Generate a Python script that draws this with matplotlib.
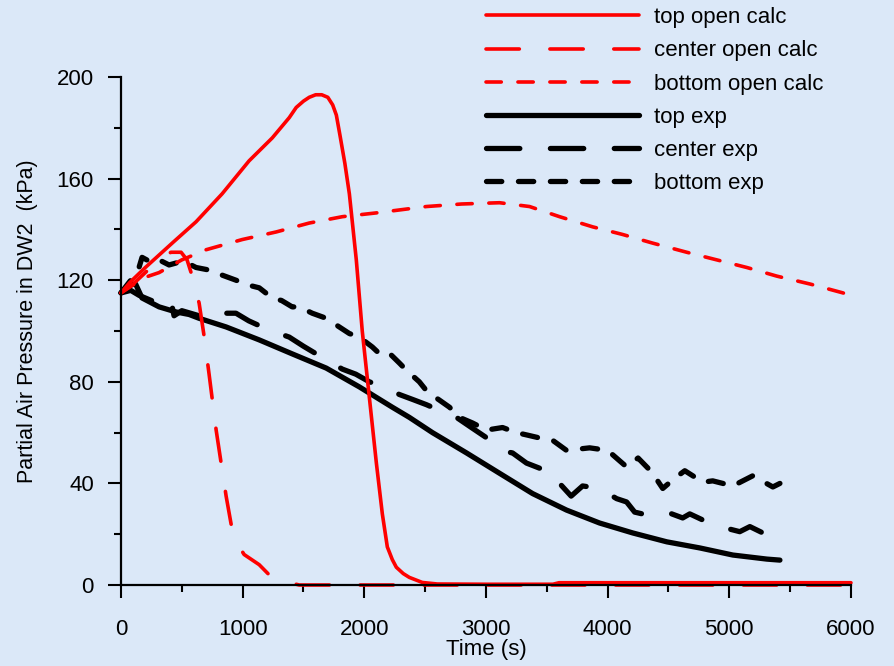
import matplotlib
matplotlib.use("Agg")
import matplotlib.pyplot as plt
from matplotlib.ticker import MultipleLocator

plt.rcParams['font.family'] = ['Liberation Sans', 'DejaVu Sans']
plt.rcParams['lines.scale_dashes'] = False

# ---------------- data ----------------
top_calc_t = [0, 70, 200, 430, 617, 831, 1053, 1243, 1383, 1440, 1500, 1547, 1600, 1650, 1700,
              1740, 1770, 1800, 1840, 1877, 1934, 1983, 2041, 2099, 2148, 2189, 2230, 2263,
              2320, 2370, 2477, 2600, 3000, 3550, 3600, 4000, 5000, 6000]
top_calc_p = [115, 119, 125, 135, 143, 154, 167, 176, 184, 188, 190.5, 192, 193, 193, 192,
              189, 185, 177, 166, 154, 128, 100, 74, 48, 28, 15, 10, 7,
              4.5, 3, 1, 0.4, 0.3, 0.3, 0.9, 0.9, 0.9, 0.9]

center_calc_t = [0, 100, 200, 300, 410, 494, 543, 576, 642, 683, 724, 782, 823, 864, 905,
                 960, 1012, 1136, 1218, 1300, 1465, 6000]
center_calc_p = [115, 118.5, 123, 127.5, 131, 131, 128, 123, 111, 98, 83, 61, 48, 35, 24,
                 16, 12, 8, 4, 2, 0, 0]

bottom_calc_t = [0, 190, 313, 500, 700, 996, 1276, 1547, 1819, 2099, 2510, 2800, 3111, 3358,
                 3605, 3877, 4123, 4370, 4650, 4897, 5144, 5391, 5663, 5934, 6000]
bottom_calc_p = [115, 121, 123, 128, 132, 136, 139, 142.5, 145, 146.5, 149, 150, 150.5, 149,
                 145, 141, 138, 134.6, 131, 128, 125, 121.6, 118.5, 115, 114]

top_exp_t = [0, 60, 120, 173, 313, 453, 560, 642, 864, 1136, 1407, 1687, 1959, 2230, 2370,
             2560, 2840, 3111, 3383, 3662, 3934, 4206, 4486, 4757, 5029, 5309, 5416]
top_exp_p = [115, 118, 118.5, 113, 109.5, 107.5, 106.5, 105, 101.6, 96.5, 91, 85.4, 78, 70, 66,
             60, 52, 44, 36, 29.5, 24.4, 20.5, 17, 14.6, 11.8, 10.2, 9.8]

center_exp_t = [0, 80, 150, 250, 380, 410, 436, 500, 642, 750, 850, 945, 1050, 1160, 1270,
                1383, 1500, 1605, 1712, 1819, 1930, 2041, 2160, 2288, 2400, 2510, 2630, 2757,
                2880, 3004, 3111, 3218, 3333, 3440, 3547, 3605, 3700, 3794, 3934, 4074, 4156,
                4222, 4321, 4428, 4510, 4617, 4675, 4782, 4922, 5086, 5169, 5276, 5391, 5416]
center_exp_p = [115, 116, 114, 112, 110, 112, 106, 108, 106, 108, 107, 107, 104, 101.6, 99.5,
                97.6, 94, 91, 88, 85, 83, 80, 78, 75, 73, 71, 68.5, 66,
                62, 58, 53, 52, 48, 46, 45, 40, 35, 39, 38, 34, 32.7,
                28.7, 27.6, 27.6, 28.3, 26.4, 28, 25.6, 23, 21, 23, 20.5, 19, 19]

bottom_exp_t = [0, 80, 148, 173, 250, 313, 395, 470, 535, 617, 724, 831, 945, 1053, 1136,
                1243, 1320, 1407, 1465, 1572, 1687, 1794, 1877, 1959, 2066, 2148, 2222, 2288,
                2345, 2452, 2519, 2617, 2700, 2782, 2889, 3004, 3136, 3250, 3342, 3440, 3547,
                3662, 3852, 4000, 4156, 4250, 4362, 4453, 4550, 4634, 4782, 4864, 5029, 5193,
                5358, 5416]
bottom_exp_p = [115, 120, 125, 129, 127, 128, 126, 127, 127, 125, 124, 122, 120, 118, 117,
                113, 112, 109.5, 109.5, 107, 105, 101.6, 99, 97.6, 93.7, 90, 90.5, 87.4,
                84.6, 80, 76, 72.8, 70, 66, 63.8, 61, 62, 60, 59, 57.9, 57,
                53, 54, 53, 46.5, 50, 44.5, 38, 42, 45, 40.5, 41, 39, 43,
                38.6, 40]

x_ticks = [0, 1000, 2000, 3000, 4000, 5000, 6000]
y_ticks = [0, 40, 80, 120, 160, 200]

# ---------------- figure ----------------
bg = '#dbe8f8'
fig = plt.figure(figsize=(8.95, 6.66), dpi=100, facecolor=bg)
ax = fig.add_axes([0.1352, 0.1216, 0.8156, 0.7628])
ax.set_facecolor('none')

red_lw = 2.6
blk_lw = 3.8
long_dash = (0, (24, 22))
short_dash = (0, (11, 12))

h_ce = ax.plot(center_exp_t, center_exp_p, color='black', lw=blk_lw, linestyle=long_dash,
               dash_capstyle='round', solid_capstyle='round', clip_on=False, label='center exp')[0]
h_be = ax.plot(bottom_exp_t, bottom_exp_p, color='black', lw=blk_lw, linestyle=short_dash,
               dash_capstyle='round', solid_capstyle='round', clip_on=False, label='bottom exp')[0]
h_te = ax.plot(top_exp_t, top_exp_p, color='black', lw=blk_lw, linestyle='-',
               solid_capstyle='round', solid_joinstyle='round', clip_on=False, label='top exp')[0]
h_bc = ax.plot(bottom_calc_t, bottom_calc_p, color='#ff0000', lw=red_lw, linestyle=short_dash,
               dash_capstyle='round', clip_on=False, label='bottom open calc')[0]
h_cc = ax.plot(center_calc_t, center_calc_p, color='#ff0000', lw=red_lw, linestyle=long_dash,
               dash_capstyle='round', clip_on=False, label='center open calc')[0]
h_tc = ax.plot(top_calc_t, top_calc_p, color='#ff0000', lw=red_lw, linestyle='-',
               solid_capstyle='round', solid_joinstyle='round', clip_on=False,
               label='top open calc')[0]

ax.set_xlim(0, 6000)
ax.set_ylim(0, 200)
ax.set_xticks(x_ticks)
ax.set_yticks(y_ticks)
ax.xaxis.set_minor_locator(MultipleLocator(500))
ax.yaxis.set_minor_locator(MultipleLocator(20))

for s in ['top', 'right']:
    ax.spines[s].set_visible(False)
for s in ['left', 'bottom']:
    ax.spines[s].set_linewidth(1.6)
    ax.spines[s].set_color('black')

fs = 16
ax.tick_params(axis='x', which='major', direction='out', length=9.5, width=1.5,
               pad=15, labelsize=fs)
ax.tick_params(axis='x', which='minor', direction='out', length=5, width=1.5)
ax.tick_params(axis='y', which='major', direction='out', length=9.5, width=1.5,
               pad=10, labelsize=fs)
ax.tick_params(axis='y', which='minor', direction='out', length=5, width=1.5)

ax.set_xlabel('Time (s)', fontsize=fs, labelpad=-1)
ax.set_ylabel('Partial Air Pressure in DW2  (kPa)', fontsize=15.5)
ax.yaxis.set_label_coords(-0.114, 0.52)

leg = fig.legend(handles=[h_tc, h_cc, h_bc, h_te, h_ce, h_be],
                 labels=['top open calc', 'center open calc', 'bottom open calc',
                         'top exp', 'center exp', 'bottom exp'],
                 loc='upper left', bbox_to_anchor=(0.538, 0.996), frameon=False,
                 fontsize=fs, handlelength=6.9, handletextpad=0.68, labelspacing=0.55,
                 borderpad=0.2, borderaxespad=0)

fig.savefig('out.png', dpi=100, facecolor=bg)
